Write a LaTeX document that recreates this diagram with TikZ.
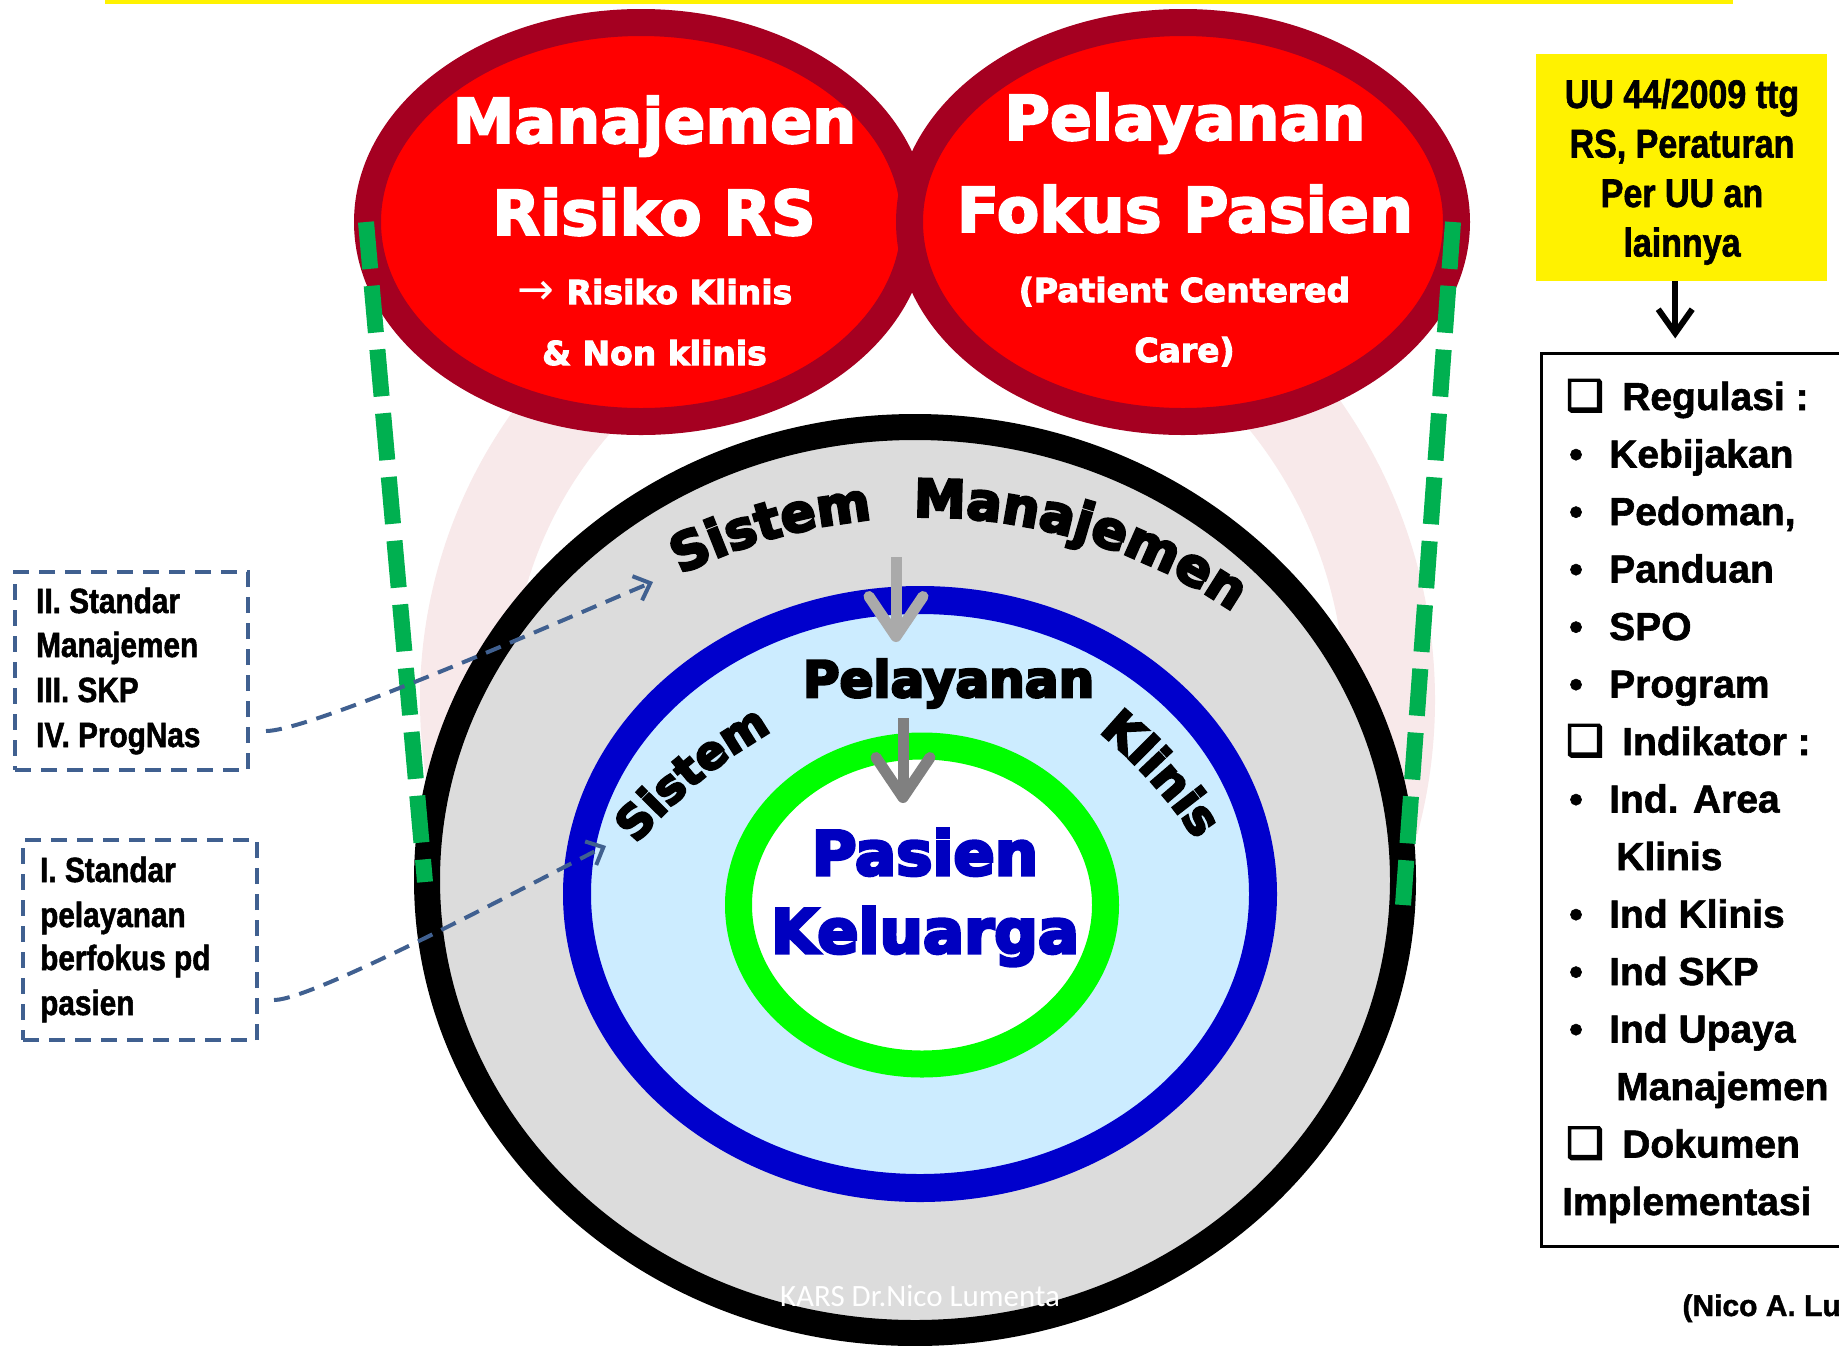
\documentclass[tikz,border=0pt]{standalone}
\usepackage{fontspec}
\usetikzlibrary{arrows.meta,decorations.text}
\newfontfamily\heavyfont[FakeBold=3]{DejaVu Sans Bold}
\newfontfamily\blackfont[FakeBold=5]{DejaVu Sans Bold}
\newfontfamily\arialbold[FakeBold=1.5]{Liberation Sans Bold}
\newfontfamily\narrowbold[FakeStretch=0.85,FakeBold=1.5]{Liberation Sans Bold}
\newfontfamily\symfont{DejaVu Sans}
\newfontfamily\boxfont[FakeBold=4]{DejaVu Sans Bold}
\newfontfamily\calfont{Carlito}
\newcommand\fsz[1]{\fontsize{#1}{#1}\selectfont}
\definecolor{darkred}{RGB}{165,0,33}
\definecolor{ringgray}{RGB}{220,220,220}
\definecolor{ringblue}{RGB}{0,0,204}
\definecolor{lightblue}{RGB}{204,236,255}
\definecolor{brightgreen}{RGB}{0,255,0}
\definecolor{dashgreen}{RGB}{0,176,80}
\definecolor{dashblue}{RGB}{64,96,144}
\definecolor{pasienblue}{RGB}{0,0,192}
\definecolor{faintpink}{RGB}{248,233,234}
\definecolor{arrowlight}{RGB}{170,170,170}
\definecolor{arrowdark}{RGB}{128,128,128}
\begin{document}
\begin{tikzpicture}[x=1pt,y=1pt,
  redhead/.style={text=white, anchor=base, inner sep=0, font=\heavyfont\fsz{62}},
  redsub/.style={text=white, anchor=base, inner sep=0, font=\heavyfont\fsz{33}},
  narrowtxt/.style={anchor=base west, inner sep=0, font=\narrowbold\fsz{35}},
  yellowtxt/.style={anchor=base, inner sep=0, font=\narrowbold\fsz{40}},
  listtxt/.style={anchor=base west, inner sep=0, font=\arialbold\fsz{39}},
  dashbox/.style={draw=dashblue, line width=4pt, dash pattern=on 16pt off 10pt, inner sep=0, anchor=north west},
  dasharrow/.style={dashblue, line width=4pt, dash pattern=on 16pt off 10pt, -{Straight Barb[length=14pt,width=26pt]}},
  greendash/.style={dashgreen, line width=16pt, dash pattern=on 47pt off 17pt},
  grayarrow/.style={line width=11pt, -{Straight Barb[length=40pt,width=54pt,round]}},
  pasientxt/.style={text=pasienblue, anchor=base, inner sep=0, font=\blackfont\fsz{61}}
]
\useasboundingbox (0,0) rectangle (1839,-1345);
\clip (0,0) rectangle (1839,-1345);
\fill[white] (0,0) rectangle (1839,-1345);

% faint background logo
\draw[faintpink, line width=90pt] (915,-700) ++(200:450) arc[start angle=200,end angle=135,radius=450];
\draw[faintpink, line width=90pt] (915,-700) ++(45:475) arc[start angle=45,end angle=-15,radius=475];

% top yellow line
\fill[yellow] (105,0) rectangle (1733,-4);

% concentric ellipses
\draw[black, line width=26pt, fill=ringgray] (915,-880) ellipse[x radius=488, y radius=453];
\draw[ringblue, line width=28pt, fill=lightblue] (920,-894) ellipse[x radius=343, y radius=294];
\draw[brightgreen, line width=27pt, fill=white] (922,-905) ellipse[x radius=183.5, y radius=159];

% red ellipses
\draw[darkred, line width=27pt, fill=red] (641,-222) ellipse[x radius=273.5, y radius=199.5];
\draw[darkred, line width=27pt, fill=red] (1183,-222) ellipse[x radius=273.5, y radius=199.5];

\node[redhead] (mr1) at (654.5,-143) {Manajemen};
\node[redhead] (mr2) at (654,-235) {Risiko RS};
\node[redsub] (mr3) at (655,-304) {{\symfont\fsz{44}→}\hspace{12pt}Risiko Klinis};
\node[redsub] (mr4) at (654.5,-365) {\& Non klinis};
\node[redhead] (pf1) at (1185,-140) {Pelayanan};
\node[redhead] (pf2) at (1185,-232) {Fokus Pasien};
\node[redsub] (pf3) at (1184.5,-302) {(Patient Centered};
\node[redsub] (pf4) at (1184.5,-362) {Care)};

% arc texts
\path[decorate, decoration={text along path, text align=center, text={|\blackfont\fsz{52}|Sistem}}]
  (925,-1065) ++(136:548) arc[start angle=136, end angle=76, radius=548];
\path[decorate, decoration={text along path, text align=center, text={|\blackfont\fsz{52}|Manajemen}}]
  (925,-1065) ++(108:548) arc[start angle=108, end angle=39, radius=548];
\path[decorate, decoration={text along path, text align=center, text={|\blackfont\fsz{46}|Sistem}}]
  (1016,-1162) ++(154.8:495) arc[start angle=154.8, end angle=104.8, radius=495];
\path[decorate, decoration={text along path, text align=center, text={|\blackfont\fsz{47}|Klinis}}]
  (783.5,-1113.5) ++(67:495) arc[start angle=67, end angle=17, radius=495];
\node[anchor=base, inner sep=0, font=\blackfont\fsz{50}] (pel) at (948.5,-697) {Pelayanan};

\node[pasientxt] (pas1) at (925,-875) {Pasien};
\node[pasientxt] (pas2) at (925,-953) {Keluarga};

% gray arrows
\coordinate (ga1) at (896,-557); \coordinate (ga2) at (896,-642);
\draw[grayarrow, arrowlight] (ga1) -- (ga2);
\coordinate (gb1) at (903,-718); \coordinate (gb2) at (903,-803);
\draw[grayarrow, arrowdark] (gb1) -- (gb2);

% watermark
\node[text=white, anchor=base, inner sep=0, font=\calfont\fsz{31}] (wm) at (920,-1306) {KARS Dr.Nico Lumenta};

% green dashed lines
\coordinate (gl1) at (366,-222); \coordinate (gl2) at (425,-882);
\draw[greendash] (gl1) -- (gl2);
\coordinate (gr1) at (1453,-222); \coordinate (gr2) at (1403,-905);
\draw[greendash] (gr1) -- (gr2);

% left dashed boxes
\node[dashbox, minimum width=233pt, minimum height=198pt] (box1) at (13,-570) {};
\node[narrowtxt] (b1a) at (36,-613) {II. Standar};
\node[narrowtxt] (b1b) at (36,-657) {Manajemen};
\node[narrowtxt] (b1c) at (36,-702) {III. SKP};
\node[narrowtxt] (b1d) at (36,-747) {IV. ProgNas};
\node[dashbox, minimum width=234pt, minimum height=200pt] (box2) at (21,-838) {};
\node[narrowtxt] (b2a) at (40,-882) {I. Standar};
\node[narrowtxt] (b2b) at (40,-927) {pelayanan};
\node[narrowtxt] (b2c) at (40,-970) {berfokus pd};
\node[narrowtxt] (b2d) at (40,-1015) {pasien};

\coordinate (s1) at (266,-731); \coordinate (t1) at (653,-582);
\draw[dasharrow] (s1) to[out=0,in=201.8,looseness=0.3] (t1);
\coordinate (s2) at (274,-1000); \coordinate (t2) at (606,-846);
\draw[dasharrow] (s2) to[out=0,in=205.2,looseness=0.3] (t2);

% yellow box
\node[fill=yellow, minimum width=291pt, minimum height=227pt, anchor=north west, inner sep=0] (ybox) at (1536,-54) {};
\node[yellowtxt] (y1) at (1682,-108) {UU 44/2009 ttg};
\node[yellowtxt] (y2) at (1682,-157.5) {RS, Peraturan};
\node[yellowtxt] (y3) at (1682,-207) {Per UU an};
\node[yellowtxt] (y4) at (1682,-256.5) {lainnya};

% list box
\node[draw, line width=2.5pt, minimum width=330pt, minimum height=893pt, anchor=north west, inner sep=0] (listbox) at (1540,-352) {};
\draw[line width=6pt, -{Straight Barb[length=24pt,width=34pt]}] ([xshift=-6.5pt]ybox.south) -- ([xshift=-6.5pt,yshift=-57pt]ybox.south);

\node[listtxt] (l0) at (1566,-410) {\makebox[56pt][l]{\boxfont\fsz{42}❑}Regulasi :};
\node[listtxt] (l1) at (1569,-467.5) {\makebox[40pt][l]{•}Kebijakan};
\node[listtxt] (l2) at (1569,-525) {\makebox[40pt][l]{•}Pedoman,};
\node[listtxt] (l3) at (1569,-582.5) {\makebox[40pt][l]{•}Panduan};
\node[listtxt] (l4) at (1569,-640) {\makebox[40pt][l]{•}SPO};
\node[listtxt] (l5) at (1569,-697.5) {\makebox[40pt][l]{•}Program};
\node[listtxt] (l6) at (1566,-755) {\makebox[56pt][l]{\boxfont\fsz{42}❑}Indikator :};
\node[listtxt] (l7) at (1569,-812.5) {\makebox[40pt][l]{•}Ind. Area};
\node[listtxt] (l8) at (1616,-870) {Klinis};
\node[listtxt] (l9) at (1569,-927.5) {\makebox[40pt][l]{•}Ind Klinis};
\node[listtxt] (l10) at (1569,-985) {\makebox[40pt][l]{•}Ind SKP};
\node[listtxt] (l11) at (1569,-1042.5) {\makebox[40pt][l]{•}Ind Upaya};
\node[listtxt] (l12) at (1616,-1100) {Manajemen};
\node[listtxt] (l13) at (1566,-1157.5) {\makebox[56pt][l]{\boxfont\fsz{42}❑}Dokumen};
\node[listtxt] (l14) at (1562,-1215) {Implementasi};

\node[anchor=base east, inner sep=0, font=\arialbold\fsz{30}] (nico) at (1841,-1316) {(Nico A. Lu};
\end{tikzpicture}
\end{document}
